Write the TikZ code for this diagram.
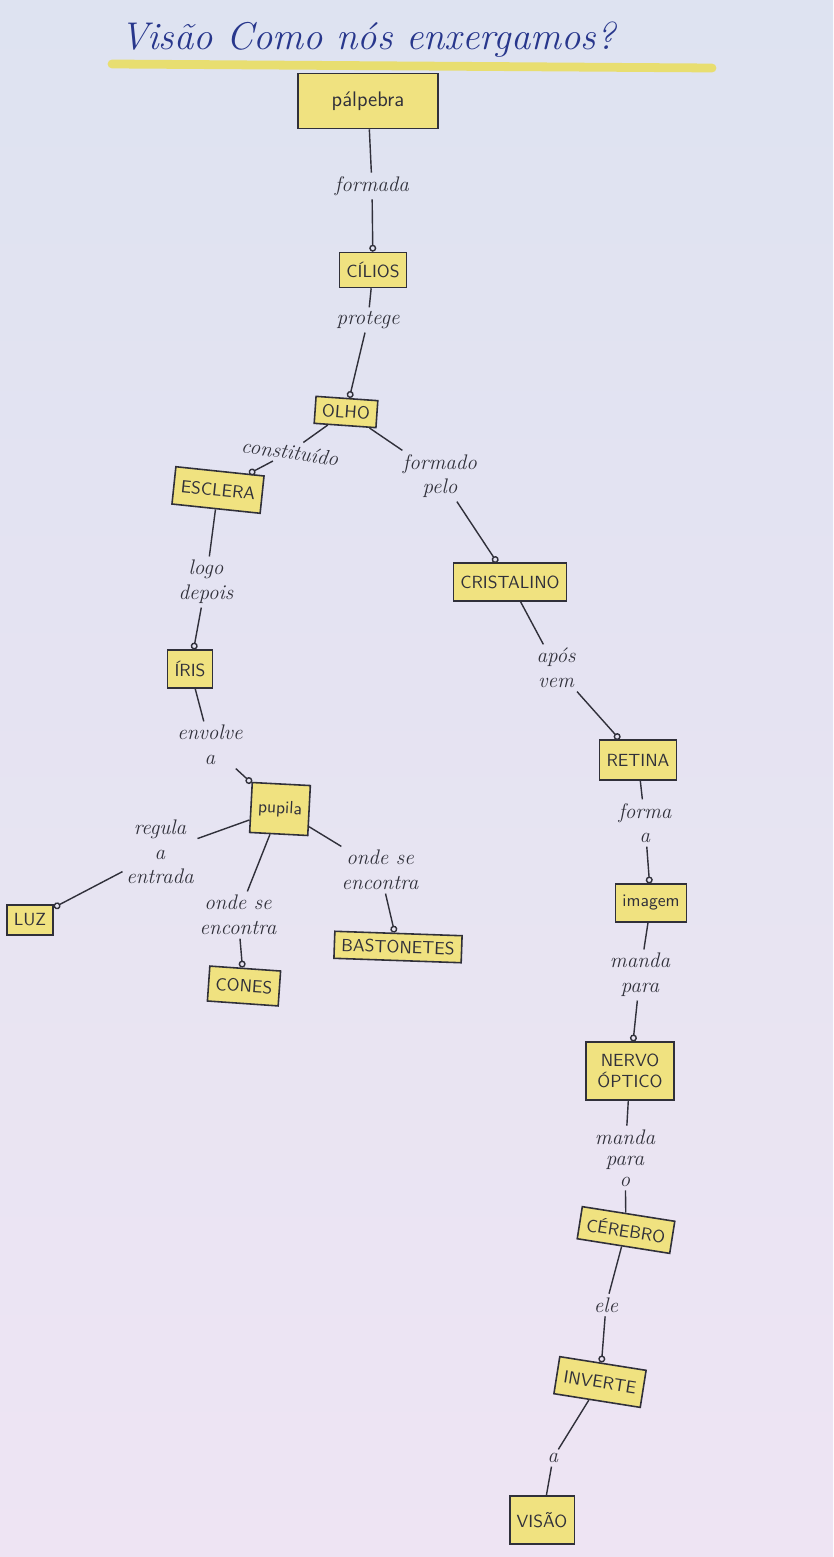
\documentclass[tikz,border=0pt]{standalone}
\usepackage{tikz}
\usetikzlibrary{arrows.meta}
\definecolor{paperTop}{RGB}{222,227,241}
\definecolor{paperBot}{RGB}{238,228,243}
\definecolor{boxYellow}{RGB}{240,226,128}
\definecolor{inkDark}{RGB}{48,48,58}
\definecolor{inkBlue}{RGB}{40,55,140}
\definecolor{hlYellow}{RGB}{232,222,112}
\tikzset{
  concept/.style={draw=inkDark, fill=boxYellow, line width=0.9pt,
                  align=center, font=\sffamily, inner sep=4pt, text=inkDark},
  lbl/.style={align=center, font=\itshape\large, inner sep=2pt, text=inkDark},
  ln/.style={draw=inkDark, line width=0.8pt},
  ar/.style={-{Circle[open,length=1.4mm]}, draw=inkDark, line width=0.8pt},
}

\begin{document}
\begin{tikzpicture}[x=0.02cm, y=-0.02cm]
\shade[top color=paperTop, bottom color=paperBot] (0,0) rectangle (833,1557);
\useasboundingbox (0,0) rectangle (833,1557);

% title
\draw[hlYellow, line width=5pt, line cap=round] (112,64) -- (712,68);
\node[text=inkBlue, font=\fontsize{22}{26}\selectfont\itshape] (title) at (368,40)
  {Visão Como nós enxergamos?};

% concepts
\node[concept, minimum width=2.8cm, minimum height=1.1cm, font=\sffamily\large] (palp) at (368,101) {pálpebra};
\node[concept, minimum height=0.7cm] (cil) at (373,270) {CÍLIOS};
\node[concept, rotate=-4] (olho) at (346,412) {OLHO};
\node[concept, rotate=-6, minimum height=0.75cm] (escl) at (218,490) {ESCLERA};
\node[concept, minimum height=0.75cm] (crist) at (510,582) {CRISTALINO};
\node[concept, minimum height=0.75cm] (iris) at (190,669) {ÍRIS};
\node[concept, minimum height=0.8cm] (ret) at (638,760) {RETINA};
\node[concept, minimum height=1.0cm, rotate=-3] (pup) at (280,809) {pupila};
\node[concept, minimum height=0.6cm] (luz) at (30,920) {LUZ};
\node[concept, rotate=-2] (bast) at (398,947) {BASTONETES};
\node[concept, rotate=-4, minimum height=0.7cm] (cones) at (244,986) {CONES};
\node[concept, minimum height=0.75cm] (img) at (651,903) {imagem};
\node[concept, minimum width=1.75cm, minimum height=1.15cm] (nerv) at (630,1071) {NERVO\\ÓPTICO};
\node[concept, rotate=-9, minimum height=0.65cm] (cere) at (626,1230) {CÉREBRO};
\node[concept, rotate=-9, minimum height=0.75cm] (inv) at (600,1382) {INVERTE};
\node[concept, minimum height=0.95cm] (vis) at (542,1520) {VISÃO};

% linking words
\node[lbl] (l1) at (372,186) {formada};
\node[lbl] (l2) at (368,320) {protege};
\node[lbl, rotate=-8] (l3) at (290,452) {constituído};
\node[lbl] (l4) at (440,476) {formado\\pelo};
\node[lbl] (l5) at (206,582) {logo\\depois};
\node[lbl] (l6) at (556,668) {após\\vem};
\node[lbl] (l7) at (210,745) {envolve\\a};
\node[lbl] (l8) at (645,823) {forma\\a};
\node[lbl] (l9) at (160,852) {regula\\a\\entrada};
\node[lbl] (l10) at (238,915) {onde se\\encontra};
\node[lbl] (l11) at (380,870) {onde se\\encontra};
\node[lbl] (l12) at (640,975) {manda\\para};
\node[lbl] (l13) at (625,1158) {manda\\[-2pt]para\\[-2pt]o};
\node[lbl] (l14) at (606,1305) {ele};
\node[lbl] (l15) at (553,1458) {a};

% connectors
\draw[ln] (palp) -- (l1);   \draw[ar] (l1) -- (cil);
\draw[ln] (cil) -- (l2);    \draw[ar] (l2) -- (olho);
\draw[ln] (olho) -- (l3);   \draw[ar] (l3) -- (escl);
\draw[ln] (olho) -- (l4);   \draw[ar] (l4) -- (crist);
\draw[ln] (escl) -- (l5);   \draw[ar] (l5) -- (iris);
\draw[ln] (crist) -- (l6);  \draw[ar] (l6) -- (ret);
\draw[ln] (iris) -- (l7);   \draw[ar] (l7) -- (pup);
\draw[ln] (ret) -- (l8);    \draw[ar] (l8) -- (img);
\draw[ln] (pup) -- (l9);    \draw[ar] (l9) -- (luz);
\draw[ln] (pup) -- (l10);   \draw[ar] (l10) -- (cones);
\draw[ln] (pup) -- (l11);   \draw[ar] (l11) -- (bast);
\draw[ln] (img) -- (l12);   \draw[ar] (l12) -- (nerv);
\draw[ln] (nerv) -- (l13);  \draw[ln] (l13) -- (cere);
\draw[ln] (cere) -- (l14);  \draw[ar] (l14) -- (inv);
\draw[ln] (inv) -- (l15);   \draw[ln] (l15) -- (vis);
\end{tikzpicture}
\end{document}
